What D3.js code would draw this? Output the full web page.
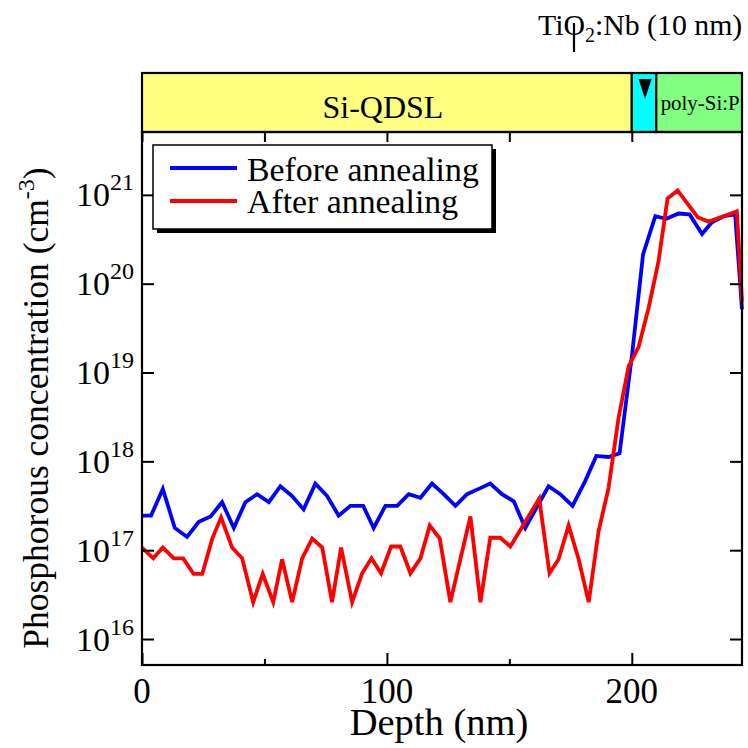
<!DOCTYPE html>
<html><head><meta charset="utf-8">
<script src="https://cdn.jsdelivr.net/npm/d3@7"></script>
<style>
html,body{margin:0;padding:0;background:#fff;}
text{font-family:"Liberation Serif","Times New Roman",serif;fill:#000;}
</style></head>
<body><svg id="c" width="748" height="748"></svg>
<script>
// ---- data ----
const blueDepth = [0,3.7,8.5,13.4,18.4,23.2,28.0,32.7,37.5,42.2,47.0,51.8,56.5,61.3,66.0,70.8,75.6,80.3,85.1,90.3,94.6,99.4,104.2,108.9,113.7,118.4,123.2,128.0,132.7,137.5,142.2,147.0,151.8,156.5,166.0,170.8,175.8,181.0,185.5,190.5,195.0,200.1,204.6,209.6,214.1,219.1,223.6,228.7,232.7,237.5,242.2,245];
const blueConc = [2.45e17,2.45e17,4.9e17,1.78e17,1.41e17,2.09e17,2.4e17,3.47e17,1.78e17,3.47e17,4.27e17,3.47e17,5.25e17,4.07e17,2.88e17,5.62e17,4.07e17,2.45e17,3.16e17,3.16e17,1.78e17,3.16e17,3.16e17,4.27e17,3.89e17,5.62e17,4.27e17,3.16e17,4.27e17,4.9e17,5.62e17,4.27e17,3.55e17,1.78e17,5.25e17,4.27e17,3.16e17,6.03e17,1.15e18,1.12e18,1.23e18,1.58e19,2.14e20,5.75e20,5.37e20,6.17e20,6.03e20,3.63e20,4.9e20,5.75e20,6.03e20,5.13e19];
const redDepth = [0,4.6,8.5,13.0,16.8,21.1,24.6,28.7,32.3,36.8,40.9,45.4,49.3,53.6,57.2,61.3,65.4,69.5,73.6,77.6,81.3,85.8,89.9,93.7,97.6,101.7,105.5,109.6,113.7,117.5,121.6,125.9,130.0,134.1,138.2,142.2,146.3,150.4,162.2,166.4,170.1,174.2,178.3,182.4,186.4,190.5,194.6,198.7,202.8,206.9,210.9,214.6,218.7,226.9,231.3,237.5,242.9,245];
const redConc = [1.07e17,8.1e16,1.07e17,8.1e16,8.1e16,5.4e16,5.4e16,1.35e17,2.34e17,1.07e17,8.1e16,2.6e16,5.4e16,2.6e16,7.9e16,2.6e16,8.1e16,1.35e17,1.07e17,2.6e16,1.07e17,2.6e16,5.5e16,8.1e16,5.5e16,1.1e17,1.1e17,5.5e16,8.1e16,1.9e17,1.35e17,2.6e16,7.9e16,2.4e17,2.6e16,1.38e17,1.38e17,1.1e17,3.8e17,5.5e16,7.9e16,1.9e17,7.9e16,2.6e16,1.62e17,5.0e17,3.1e18,1.17e19,1.95e19,5.4e19,1.78e20,9.1e20,1.12e21,5.6e20,5.0e20,5.75e20,6.5e20,6.3e19];
const seriesNames = ["Before annealing","After annealing"];
const seriesColors = ["#0000ff","#ff0000"];
const xTicks = [0,100,200];
const xMinorTicks = [50,150];
const yTickExps = [16,17,18,19,20,21];
const layerNames = ["Si-QDSL","","poly-Si:P"];
const layerStart = [0,200,210];
const layerEnd = [200,210,245];
const layerColors = ["#ffff80","#00ffff","#80ff80"];

// ---- layout ----
const L=142, R=742, T=132, B=665;
const svg = d3.select("#c");
const x = d3.scaleLinear().domain([0,245]).range([L,R]);
const y = d3.scaleLog().domain([5.1e15,5.1e21]).range([B,T]);

// layer bar
const barTop=73;
const layers = layerNames.map((n,i)=>({n, s:layerStart[i], e:layerEnd[i], c:layerColors[i]}));
svg.selectAll("rect.layer").data(layers).enter().append("rect")
  .attr("x",d=>x(d.s)).attr("y",barTop).attr("width",d=>x(d.e)-x(d.s)).attr("height",T-barTop)
  .attr("fill",d=>d.c).attr("stroke","#000").attr("stroke-width",2.2);
svg.append("text").attr("x",(x(0)+x(200))/2-4).attr("y",118).attr("text-anchor","middle")
  .attr("font-size",32).text(layerNames[0]);
svg.append("text").attr("x",(x(210)+x(245))/2+1).attr("y",110).attr("text-anchor","middle")
  .attr("font-size",21).attr("textLength",79).attr("lengthAdjust","spacingAndGlyphs").text(layerNames[2]);
// triangle marker in TiO2 layer
const tx=(x(200)+x(210))/2+1;
svg.append("path").attr("d",`M${tx-6.5},79 L${tx+6.5},79 L${tx},99 Z`).attr("fill","#000");
// top label
const tl = svg.append("text").attr("x",538).attr("y",35).attr("font-size",29.8);
tl.append("tspan").text("TiO");
tl.append("tspan").attr("font-size",20).attr("dy",7).text("2");
tl.append("tspan").attr("dy",-7).text(":Nb (10 nm)");
svg.append("line").attr("x1",574).attr("x2",574).attr("y1",23).attr("y2",52).attr("stroke","#000").attr("stroke-width",2.2);

// data lines
const line = d3.line().x(d=>x(d[0])).y(d=>y(d[1]));
const blue = blueDepth.map((d,i)=>[d,blueConc[i]]);
const red = redDepth.map((d,i)=>[d,redConc[i]]);
const g = svg.append("g");
g.append("path").datum(blue).attr("d",line).attr("fill","none").attr("stroke",seriesColors[0]).attr("stroke-width",3.8).attr("stroke-linejoin","miter");
g.append("path").datum(red).attr("d",line).attr("fill","none").attr("stroke",seriesColors[1]).attr("stroke-width",3.8).attr("stroke-linejoin","miter");

// axes (ticks inward)
const yVals = yTickExps.map(e=>Math.pow(10,e));
svg.append("g").attr("transform",`translate(${L},0)`)
  .call(d3.axisRight(y).tickValues(yVals).tickSize(12).tickFormat(""))
  .call(s=>s.select(".domain").remove());
svg.append("g").attr("transform",`translate(${R},0)`)
  .call(d3.axisLeft(y).tickValues(yVals).tickSize(12).tickFormat(""))
  .call(s=>s.select(".domain").remove());
svg.append("g").attr("transform",`translate(0,${B})`)
  .call(d3.axisTop(x).tickValues(xTicks).tickSize(12).tickFormat(""))
  .call(s=>s.select(".domain").remove());
svg.append("g").attr("transform",`translate(0,${B})`)
  .call(d3.axisTop(x).tickValues(xMinorTicks).tickSize(6).tickFormat(""))
  .call(s=>s.select(".domain").remove());
svg.append("g").attr("transform",`translate(0,${T})`)
  .call(d3.axisBottom(x).tickValues(xTicks.concat(xMinorTicks)).tickSize(10).tickFormat(""))
  .call(s=>s.select(".domain").remove());
svg.selectAll(".tick line").attr("stroke","#000").attr("stroke-width",2);
svg.append("rect").attr("x",L).attr("y",T).attr("width",R-L).attr("height",B-T)
  .attr("fill","none").attr("stroke","#000").attr("stroke-width",2.2);

// y tick labels
const yl = svg.selectAll("text.ytl").data(yTickExps).enter().append("text")
  .attr("x",134).attr("y",d=>y(Math.pow(10,d))+11.5).attr("text-anchor","end").attr("font-size",34);
yl.append("tspan").text("10");
yl.append("tspan").attr("font-size",24).attr("dy",-16).text(d=>d);
// x tick labels
svg.selectAll("text.xtl").data(xTicks).enter().append("text")
  .attr("x",d=>x(d)).attr("y",703).attr("text-anchor","middle").attr("font-size",35).text(d=>d);
// axis titles
svg.append("text").attr("x",x(122.5)-3).attr("y",735).attr("text-anchor","middle").attr("font-size",38.5).text("Depth (nm)");
const yt = svg.append("text").attr("transform","translate(48,408) rotate(-90)").attr("text-anchor","middle").attr("font-size",35.5);
yt.append("tspan").text("Phosphorous concentration (cm");
yt.append("tspan").attr("font-size",24).attr("dy",-14).text("-3");
yt.append("tspan").attr("dy",14).text(")");

// legend
svg.append("rect").attr("x",157).attr("y",149).attr("width",339).attr("height",84).attr("fill","#000");
svg.append("rect").attr("x",153).attr("y",145).attr("width",339).attr("height",84).attr("fill","#fff").attr("stroke","#000").attr("stroke-width",1.5);
const lg = svg.selectAll("g.leg").data(seriesNames).enter().append("g");
lg.append("line").attr("x1",170).attr("x2",237).attr("y1",(d,i)=>168+i*33).attr("y2",(d,i)=>168+i*33)
  .attr("stroke",(d,i)=>seriesColors[i]).attr("stroke-width",4);
lg.append("text").attr("x",247).attr("y",(d,i)=>181+i*32).attr("font-size",33.8).text(d=>d);
</script></body></html>
